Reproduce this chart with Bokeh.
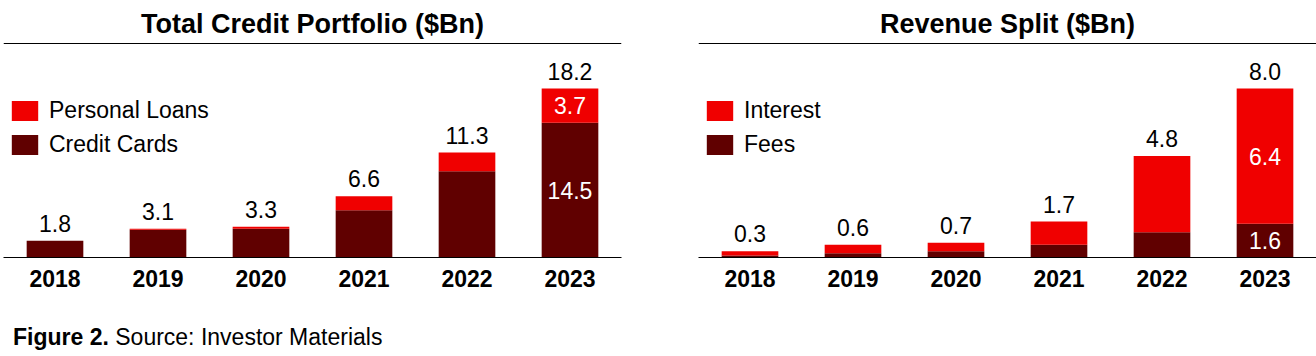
from bokeh.plotting import figure
from bokeh.models import ColumnDataSource, Label, Span, Legend, LegendItem, Div
from bokeh.layouts import row, column
from bokeh.embed import file_html
from bokeh.resources import INLINE
from bokeh.core.properties import value

# ---------------- data ----------------
years = ["2018", "2019", "2020", "2021", "2022", "2023"]

credit_cards = [1.8, 3.0, 3.1, 5.1, 9.3, 14.5]
personal_loans = [0.0, 0.1, 0.2, 1.5, 2.0, 3.7]
credit_totals = [1.8, 3.1, 3.3, 6.6, 11.3, 18.2]

fees = [0.1, 0.2, 0.3, 0.6, 1.2, 1.6]
interest = [0.2, 0.4, 0.4, 1.1, 3.6, 6.4]
revenue_totals = [0.3, 0.6, 0.7, 1.7, 4.8, 8.0]

segment_label_year = "2023"

# ---------------- style ----------------
RED = "#F00000"
DARK = "#600000"
FONT = "Liberation Sans"

TOP_BORDER = 8
FRAME_H = 249       # frame height in px (page y 8 .. 257)
BAR_MAX_PX = 169    # pixel height of tallest bar
BOTTOM_BORDER = 50


def make_chart(title, bottom_vals, top_vals, totals, bottom_name, top_name,
               width, border_left, border_right):
    ppu = BAR_MAX_PX / max(totals)
    y_end = FRAME_H / ppu

    p = figure(x_range=years, y_range=(0, y_end), width=width,
               height=TOP_BORDER + FRAME_H + BOTTOM_BORDER, output_backend="svg",
               toolbar_location=None, y_axis_location=None,
               min_border_top=TOP_BORDER, min_border_bottom=BOTTOM_BORDER,
               min_border_left=border_left, min_border_right=border_right)
    p.outline_line_color = None
    p.xgrid.visible = False
    p.ygrid.visible = False
    p.background_fill_color = "white"
    p.border_fill_color = "white"

    src = ColumnDataSource(dict(year=years, bottom=bottom_vals, top=top_vals))
    rs = p.vbar_stack(["bottom", "top"], x="year", width=0.55, source=src,
                      fill_color=[DARK, RED], line_color=None)

    # total labels above bars
    lab = ColumnDataSource(dict(
        year=years,
        y=[t + 17.5 / ppu for t in totals],
        text=[f"{t:.1f}" for t in totals]))
    p.text(x="year", y="y", text="text", source=lab,
           text_font=value(FONT), text_font_size="23px", text_color="black",
           text_align="center", text_baseline="middle")

    # segment labels inside the last bar
    i = years.index(segment_label_year)
    b, t = bottom_vals[i], top_vals[i]
    seg = ColumnDataSource(dict(
        year=[segment_label_year, segment_label_year],
        y=[b / 2, b + t / 2],
        text=[f"{b:.1f}", f"{t:.1f}"]))
    p.text(x="year", y="y", text="text", source=seg,
           text_font=value(FONT), text_font_size="23px", text_color="white",
           text_align="center", text_baseline="middle")

    # title + rule
    p.add_layout(Label(x=3, y=234 / ppu, text=title,
                       text_font=FONT, text_font_style="bold",
                       text_font_size="27px", text_color="black",
                       text_align="center", text_baseline="middle"))
    p.add_layout(Span(location=214 / ppu, dimension="width",
                      line_color="black", line_width=1))

    # legend
    legend = Legend(items=[LegendItem(label=top_name, renderers=[rs[1]]),
                           LegendItem(label=bottom_name, renderers=[rs[0]])],
                    location=(5, 99), glyph_width=33, glyph_height=25,
                    label_standoff=8, spacing=7, padding=0, margin=0,
                    border_line_color=None, background_fill_alpha=0,
                    label_text_font=FONT, label_text_font_size="23px",
                    label_text_color="black", label_height=25)
    p.add_layout(legend)

    ax = p.xaxis[0]
    ax.axis_line_color = "black"
    ax.axis_line_width = 1
    ax.major_tick_line_color = None
    ax.minor_tick_line_color = None
    ax.major_tick_out = 0
    ax.major_tick_in = 0
    ax.major_label_standoff = 12
    ax.major_label_text_font = FONT
    ax.major_label_text_font_size = "23px"
    ax.major_label_text_font_style = "bold"
    ax.major_label_text_color = "black"
    return p


left = make_chart("Total Credit Portfolio ($Bn)", credit_cards, personal_loans,
                  credit_totals, "Credit Cards", "Personal Loans",
                  width=660, border_left=3, border_right=39)
right = make_chart("Revenue Split ($Bn)", fees, interest, revenue_totals,
                   "Fees", "Interest", width=656, border_left=38, border_right=0)

caption = Div(text=(
    "<div style=\"font-family:'Liberation Sans';font-size:23px;line-height:23px;"
    "padding-left:8px;padding-top:14px;color:#000;white-space:nowrap\">"
    "<b>Figure 2.</b> Source: Investor Materials</div>"), width=600, height=45)

layout = column(row(left, right), caption)

open("out.html", "w").write(file_html(layout, INLINE))
